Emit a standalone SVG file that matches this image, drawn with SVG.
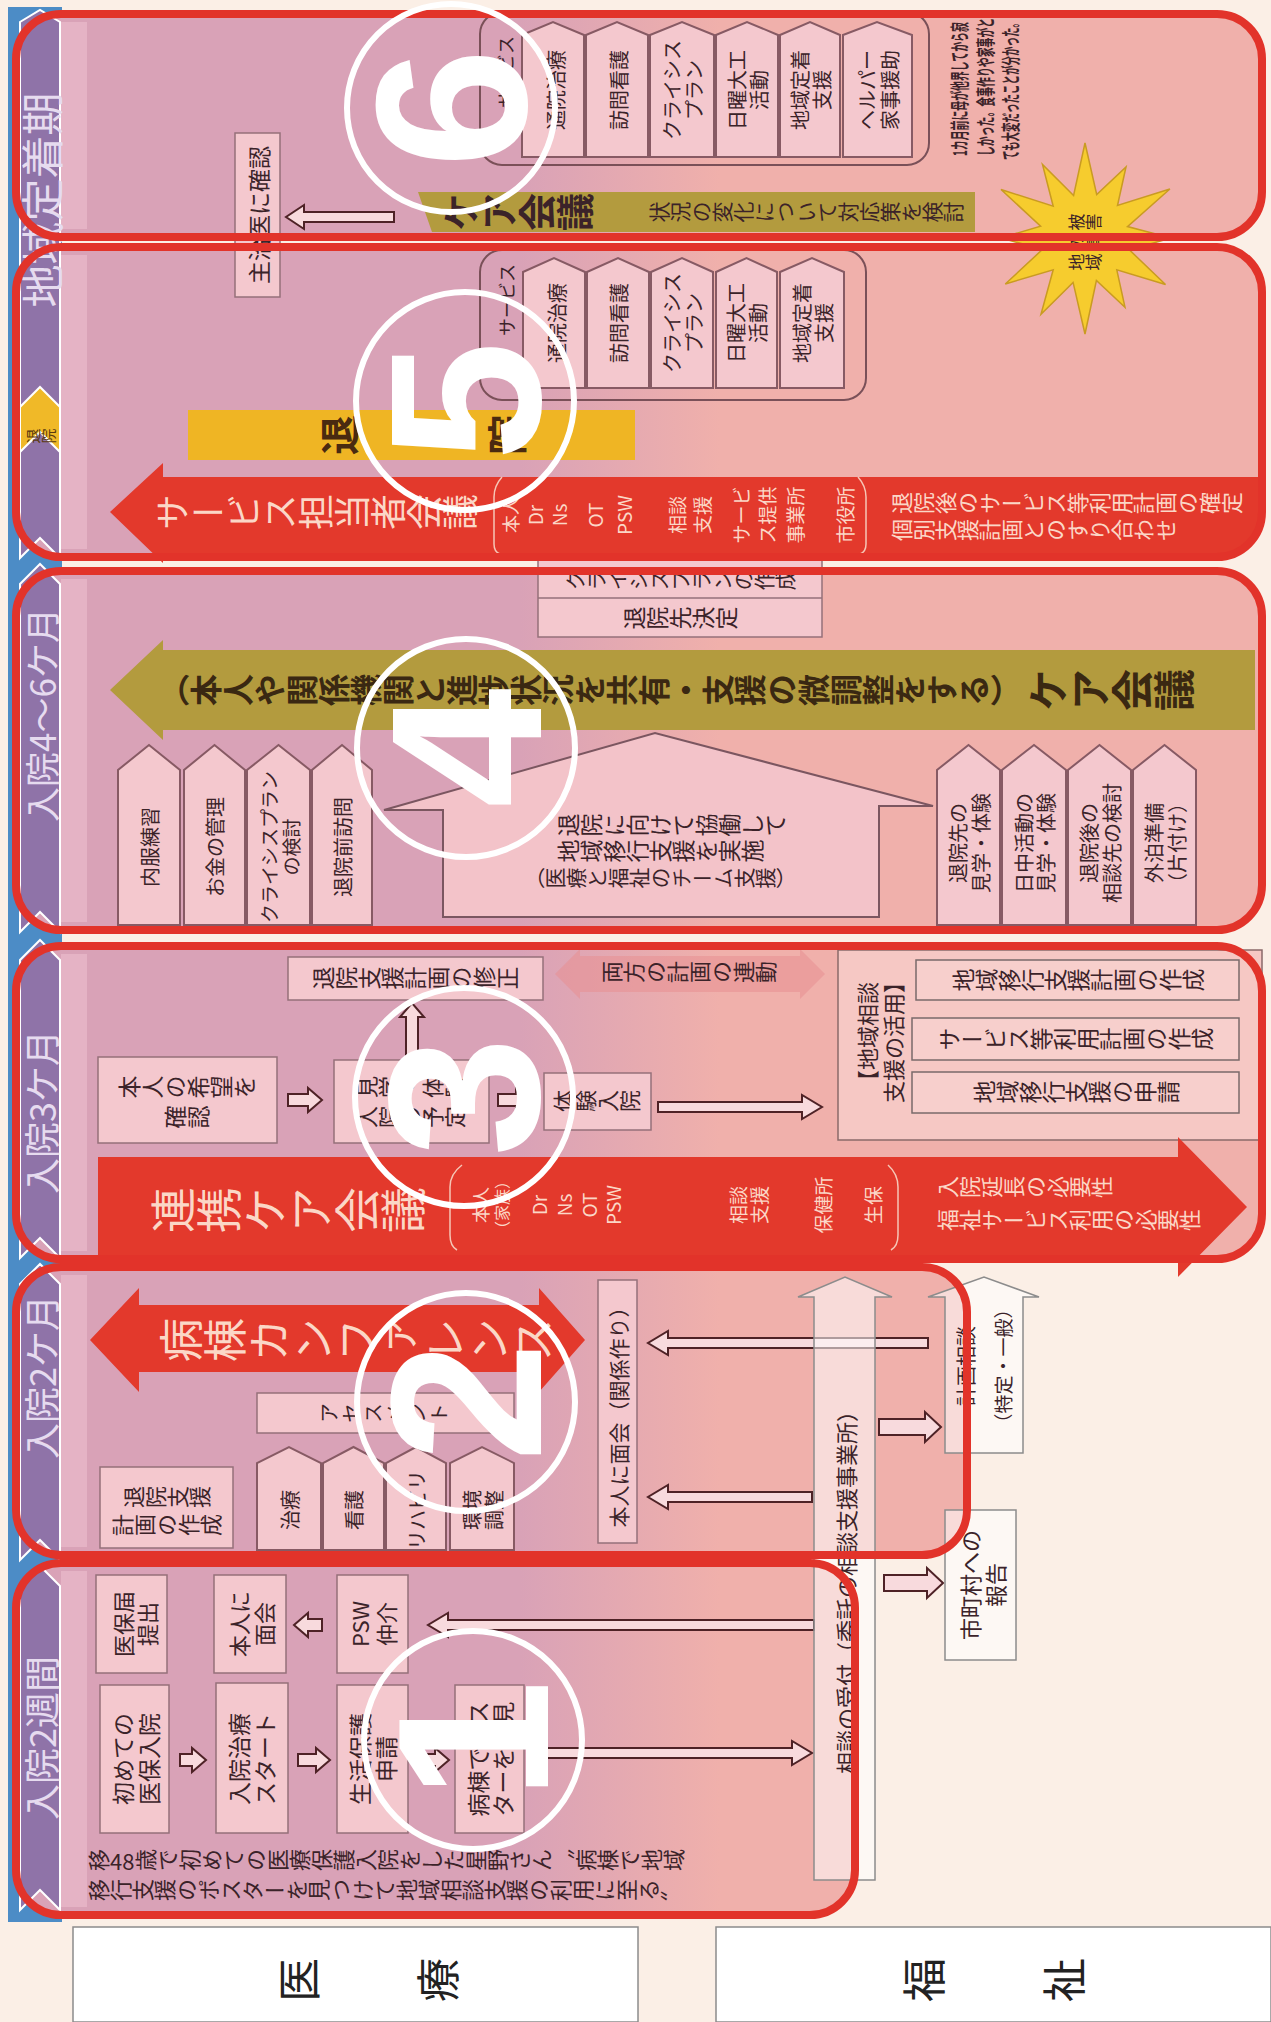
<svg xmlns="http://www.w3.org/2000/svg" width="1271" height="2022" viewBox="0 0 1271 2022">
<defs>
<linearGradient id="bg" gradientUnits="userSpaceOnUse" x1="0" y1="520" x2="0" y2="720">
<stop offset="0" stop-color="#d9a2b7"/><stop offset="1" stop-color="#f0b0ab"/>
</linearGradient>
<style>
text{font-family:"Noto Sans CJK JP","Noto Sans CJK SC",sans-serif;fill:#3b2329;}
.h{text-anchor:middle;dominant-baseline:central;}
.v{writing-mode:vertical-rl;text-anchor:middle;}
.vs{writing-mode:vertical-rl;text-anchor:start;}
.frame{fill:url(#bg);}
.fst{fill:none;stroke:#e2332a;stroke-width:8;}
.strip{fill:#e8b8ca;opacity:.75;}
.box{fill:#f4c8ce;stroke:#95707a;stroke-width:1.5;}
.tab{fill:#f4c8ce;stroke:#875a64;stroke-width:2;}
.wbox{fill:#ffffff;fill-opacity:.55;stroke:#8c8c8c;stroke-width:1.5;}
.arr{fill:#f8dadd;stroke:#4e2226;stroke-width:2;}
.red{fill:#e3392c;}
.olive{fill:#b39b3e;}
text.lt{fill:#fbd7c7;}
text.hd{fill:#e6dbef;}
.br{fill:none;stroke:#f6c6b6;stroke-width:1.5;}
.circ{fill:none;stroke:#ffffff;stroke-width:6;}
text.num{fill:#ffffff;font-family:"Liberation Sans",Arial,sans-serif;font-weight:700;font-size:215px;text-anchor:middle;dominant-baseline:central;}
</style>
</defs>
<rect x="0" y="0" width="1271" height="2022" fill="#fbefe6"/>
<g transform="translate(0,2022) rotate(-90)">
<rect x="100" y="8" width="1915" height="54" fill="#4c8cc6"/>
<g id="frames-fill">
<rect class="frame" x="107" y="16" width="352" height="839" rx="45"/>
<rect class="frame" x="467" y="16" width="288" height="951" rx="45"/>
<rect class="frame" x="763" y="16" width="313" height="1246" rx="45"/>
<rect class="frame" x="1092" y="16" width="359" height="1246" rx="45"/>
<rect class="frame" x="1465" y="16" width="310" height="1246" rx="45"/>
<rect class="frame" x="1785" y="16" width="223" height="1246" rx="45"/>
<rect class="strip" x="115" y="61" width="336" height="26"/>
<rect class="strip" x="475" y="61" width="272" height="26"/>
<rect class="strip" x="771" y="61" width="297" height="26"/>
<rect class="strip" x="1100" y="61" width="343" height="26"/>
<rect class="strip" x="1473" y="61" width="294" height="26"/>
<rect class="strip" x="1793" y="61" width="207" height="26"/>
</g>
<g id="header">
<polygon points="112,20 436,20 456,40 436,60 112,60 132,40" fill="#8f73a8" stroke="#ffffff" stroke-width="2"/>
<polygon points="462,20 738,20 758,40 738,60 462,60 482,40" fill="#8f73a8" stroke="#ffffff" stroke-width="2"/>
<polygon points="764,20 1062,20 1082,40 1062,60 764,60 784,40" fill="#8f73a8" stroke="#ffffff" stroke-width="2"/>
<polygon points="1090,20 1438,20 1458,40 1438,60 1090,60 1110,40" fill="#8f73a8" stroke="#ffffff" stroke-width="2"/>
<polygon points="1464,20 2000,20 2012,40 2000,60 1464,60 1484,40" fill="#8f73a8" stroke="#ffffff" stroke-width="2"/>
<polygon points="1570,20 1615,20 1635,40 1615,60 1570,60 1590,40" fill="#f0b928" stroke="#ffffff" stroke-width="2"/>
<text class="v" x="1586" y="41" font-size="15" style="fill:#5a3a10">退院</text>
<text class="h hd" x="284" y="40" font-size="36">入院2週間</text>
<text class="h hd" x="645" y="40" font-size="36">入院2ケ月</text>
<text class="h hd" x="910" y="40" font-size="36">入院3ケ月</text>
<text class="h hd" x="1307" y="40" font-size="35">入院4～6ケ月</text>
<text class="h hd" x="1822" y="40" font-size="43">地域定着期</text>
</g>
<g id="row-iryo">
<rect x="0" y="73" width="95" height="565" fill="#ffffff" stroke="#8c8c8c" stroke-width="1.5"/>
<text class="h" x="42" y="297" font-size="44" style="fill:#222">医</text>
<text class="h" x="42" y="436" font-size="44" style="fill:#222">療</text>
</g>
<g id="row-fukushi">
<rect x="0" y="716" width="95" height="555" fill="#ffffff" stroke="#8c8c8c" stroke-width="1.5"/>
<text class="h" x="42" y="922" font-size="44" style="fill:#222">福</text>
<text class="h" x="42" y="1062" font-size="44" style="fill:#222">祉</text>
</g>
<g id="connectors">
<polygon class="arr" points="1800,394 1800,304 1793,304 1805,286 1817,304 1810,304 1810,394"/>
<polygon class="arr" points="256,180 256,192 250,192 262,206 274,192 268,192 268,180"/>
<polygon class="arr" points="256,298 256,316 250,316 262,330 274,316 268,316 268,298"/>
<polygon class="arr" points="391,322 391,308 385,308 397,294 409,308 403,308 403,322"/>
<polygon class="arr" points="256,415 256,435 250,435 262,449 274,435 268,435 268,415"/>
<polygon class="arr" points="392,814 392,448 385,448 397,428 409,448 402,448 402,814"/>
<polygon class="arr" points="264,532 264,792 257,792 269,812 281,792 274,792 274,532"/>
<polygon class="arr" points="674,928 674,668 667,668 679,648 691,668 684,668 684,928"/>
<polygon class="arr" points="520,812 520,668 513,668 525,648 537,668 530,668 530,812"/>
<polygon class="arr" points="587,879 587,925 580,925 595,941 610,925 603,925 603,879"/>
<polygon class="arr" points="431,884 431,927 424,927 439,943 454,927 447,927 447,884"/>
<polygon class="arr" points="916,288 916,308 910,308 922,322 934,308 928,308 928,288"/>
<polygon class="arr" points="967,406 1005,406 1005,400 1019,412 1005,424 1005,418 967,418"/>
<polygon class="arr" points="916,498 916,516 910,516 922,530 934,516 928,516 928,498"/>
<polygon class="arr" points="910,658 910,802 903,802 915,822 927,802 920,802 920,658"/>
</g>
<g id="sec6">
<rect class="box" x="1725" y="235" width="164" height="45"/>
<text class="h" x="1807" y="258" font-size="23">主治医に確認</text>
<polygon class="olive" points="1790,432 1830,418 1830,975 1790,975"/>
<text class="v" x="1810" y="518" font-size="38" font-weight="700">ケア会議</text>
<text class="v" x="1810" y="806" font-size="21">状況の変化について対応策を検討</text>
<rect x="1857" y="480" width="153" height="449" rx="22" fill="none" stroke="#7a5058" stroke-width="2"/>
<text class="h" x="1950" y="505" font-size="18">サービス</text>
<polygon class="tab" points="1865,522 1987,522 2000,553 1987,584 1865,584"/>
<polygon class="tab" points="1865,586 1987,586 2000,617 1987,648 1865,648"/>
<polygon class="tab" points="1865,650 1987,650 2000,682 1987,714 1865,714"/>
<polygon class="tab" points="1865,716 1987,716 2000,747 1987,778 1865,778"/>
<polygon class="tab" points="1865,780 1987,780 2000,810 1987,840 1865,840"/>
<polygon class="tab" points="1865,843 1987,843 2000,877 1987,912 1865,912"/>
<text class="h" x="1932" y="555" font-size="20">通院治療</text>
<text class="h" x="1932" y="618" font-size="20">訪問看護</text>
<text class="h" x="1932" y="671" font-size="20">クライシス</text>
<text class="h" x="1932" y="693" font-size="20">プラン</text>
<text class="h" x="1932" y="736" font-size="20">日曜大工</text>
<text class="h" x="1932" y="758" font-size="20">活動</text>
<text class="h" x="1932" y="799" font-size="20">地域定着</text>
<text class="h" x="1932" y="821" font-size="20">支援</text>
<text class="h" x="1932" y="866" font-size="20">ヘルパー</text>
<text class="h" x="1932" y="889" font-size="20">家事援助</text>
<text transform="translate(1866,958) scale(0.52,1)" font-size="19" font-weight="700" dominant-baseline="central">1カ月前に母が他界してから寂</text>
<text transform="translate(1866,984) scale(0.52,1)" font-size="19" font-weight="700" dominant-baseline="central">しかった。食事作りや家事がと</text>
<text transform="translate(1862,1010) scale(0.5,1)" font-size="19" font-weight="700" dominant-baseline="central">ても大変だったことが分かった。</text>
</g>
<g id="starburst">
<polygon points="1879,1085 1827.5,1096.7 1855,1126 1816.5,1117.5 1833,1169.9 1795.4,1127.5 1784,1171 1772.1,1129.4 1737.5,1165.5 1752.2,1116.8 1714.7,1125 1741.5,1096.4 1688,1085 1739.6,1073.1 1707.8,1041 1752.2,1053.2 1738,1005.3 1772.6,1042.5 1784,1001 1795.9,1040.6 1832.5,1001 1815.8,1053.2 1857.6,1042.5 1826.5,1073.6" fill="#f6cc2e" stroke="#c99b22" stroke-width="1.5"/>
<text class="v" x="1800" y="1085" font-size="17">被害</text>
<text class="v" x="1780" y="1085" font-size="17">の情</text>
<text class="v" x="1760" y="1085" font-size="17">地域</text>
</g>
<g id="sec5">
<rect x="1562" y="188" width="50" height="447" fill="#efb524"/>
<text class="h" x="1587" y="338" font-size="40" font-weight="700" style="fill:#4a2a10">退</text>
<text class="h" x="1587" y="505" font-size="40" font-weight="700" style="fill:#4a2a10">院</text>
<path class="red" d="M1510,110 L1559,163 L1545,163 L1545,1262 L1510,1262 A45,45 0 0 1 1465,1217 L1465,163 L1459,163 Z"/>
<text class="v lt" x="1510" y="316" font-size="36">サービス担当者会議</text>
<path class="br" d="M1545,502 Q1536,494 1525,494 L1478,494 Q1470,494 1468,500"/>
<path class="br" d="M1545,858 Q1536,866 1525,866 L1478,866 Q1470,866 1468,860"/>
<text class="h lt" x="1507" y="510" font-size="18">本人</text>
<text class="h lt" x="1507" y="534" font-size="19">Dr</text>
<text class="h lt" x="1507" y="558" font-size="19">Ns</text>
<text class="h lt" x="1507" y="594" font-size="19">OT</text>
<text class="h lt" x="1507" y="623" font-size="19">PSW</text>
<text class="h lt" x="1507" y="676" font-size="19">相談</text>
<text class="h lt" x="1507" y="701" font-size="19">支援</text>
<text class="h lt" x="1507" y="740" font-size="19">サービ</text>
<text class="h lt" x="1507" y="766" font-size="19">ス提供</text>
<text class="h lt" x="1507" y="794" font-size="19">事業所</text>
<text class="h lt" x="1507" y="844" font-size="19">市役所</text>
<text class="vs lt" x="1519" y="891" font-size="22">退院後のサービス等利用計画の確定</text>
<text class="vs lt" x="1492" y="891" font-size="22">個別支援計画とのすり合わせ</text>
<rect x="1622" y="480" width="150" height="386" rx="22" fill="none" stroke="#7a5058" stroke-width="2"/>
<text class="h" x="1722" y="506" font-size="18">サービス</text>
<polygon class="tab" points="1634,523 1750,523 1764,554 1750,585 1634,585"/>
<polygon class="tab" points="1634,587 1750,587 1764,618 1750,649 1634,649"/>
<polygon class="tab" points="1634,651 1750,651 1764,682 1750,713 1634,713"/>
<polygon class="tab" points="1634,716 1750,716 1764,746.5 1750,777 1634,777"/>
<polygon class="tab" points="1634,780 1750,780 1764,812 1750,844 1634,844"/>
<text class="h" x="1699" y="556" font-size="20">通院治療</text>
<text class="h" x="1699" y="618" font-size="20">訪問看護</text>
<text class="h" x="1699" y="671" font-size="20">クライシス</text>
<text class="h" x="1699" y="693" font-size="20">プラン</text>
<text class="h" x="1699" y="735" font-size="20">日曜大工</text>
<text class="h" x="1699" y="757" font-size="20">活動</text>
<text class="h" x="1699" y="801" font-size="20">地域定着</text>
<text class="h" x="1699" y="823" font-size="20">支援</text>
</g>
<g id="sec4">
<rect class="box" x="1385" y="538" width="77" height="284"/>
<line x1="1424" y1="538" x2="1424" y2="822" stroke="#95707a" stroke-width="1.5"/>
<text class="v" x="1442" y="680" font-size="21">クライシスプランの作成</text>
<text class="v" x="1404" y="680" font-size="23">退院先決定</text>
<polygon class="olive" points="1332,110 1382,163 1372,163 1372,1255 1292,1255 1292,163 1282,163"/>
<text class="vs" x="1332" y="158" font-size="32" font-weight="700" style="fill:#3a2812">（本人や関係機関と進捗状況を共有・支援の微調整をする）</text>
<text class="vs" x="1332" y="1027" font-size="42" font-weight="700" style="fill:#3a2812">ケア会議</text>
<polygon class="tab" points="1097,118 1252,118 1277,149 1252,180 1097,180"/>
<polygon class="tab" points="1097,184 1252,184 1277,214.5 1252,245 1097,245"/>
<polygon class="tab" points="1097,247 1252,247 1277,278.5 1252,310 1097,310"/>
<polygon class="tab" points="1097,312 1252,312 1277,342 1252,372 1097,372"/>
<text class="h" x="1175" y="149" font-size="20">内服練習</text>
<text class="h" x="1175" y="214.5" font-size="20">お金の管理</text>
<text class="h" x="1175" y="268" font-size="19">クライシスプラン</text>
<text class="h" x="1175" y="290" font-size="19">の検討</text>
<text class="h" x="1175" y="342" font-size="20">退院前訪問</text>
<polygon points="1105,443 1212,443 1212,384 1289,655 1216,933 1216,879 1105,879" fill="#f3c3c9" stroke="#7b5660" stroke-width="2"/>
<text class="v" x="1197" y="672" font-size="23">退院に向けて協働して</text>
<text class="v" x="1171" y="660" font-size="23">地域移行支援を実施</text>
<text class="v" x="1144" y="660" font-size="21">（医療と福祉のチーム支援）</text>
<polygon class="tab" points="1097,937 1252,937 1277,968.5 1252,1000 1097,1000"/>
<polygon class="tab" points="1097,1002 1252,1002 1277,1034 1252,1066 1097,1066"/>
<polygon class="tab" points="1097,1068 1252,1068 1277,1099.5 1252,1131 1097,1131"/>
<polygon class="tab" points="1097,1133 1252,1133 1277,1164.5 1252,1196 1097,1196"/>
<text class="h" x="1179" y="957" font-size="20">退院先の</text>
<text class="h" x="1179" y="980" font-size="20">見学・体験</text>
<text class="h" x="1179" y="1023" font-size="20">日中活動の</text>
<text class="h" x="1179" y="1045" font-size="20">見学・体験</text>
<text class="h" x="1179" y="1088" font-size="20">退院後の</text>
<text class="h" x="1179" y="1111" font-size="20">相談先の検討</text>
<text class="h" x="1179" y="1153" font-size="20">外泊準備</text>
<text class="h" x="1179" y="1176" font-size="20">（片付け）</text>
</g>
<g id="sec3">
<rect class="box" x="1022" y="288" width="43" height="255"/>
<text class="v" x="1044" y="415" font-size="23">退院支援計画の修正</text>
<polygon points="1048,555 1073,580 1066,580 1066,800 1073,800 1048,825 1023,800 1030,800 1030,580 1023,580" fill="#e88f92" opacity="0.55"/>
<text class="v" x="1050" y="689" font-size="22">両方の計画の連動</text>
<rect class="box" x="879" y="98" width="86" height="179"/>
<text class="v" x="935" y="187" font-size="23">本人の希望を</text>
<text class="v" x="905" y="187" font-size="23">確認</text>
<rect class="box" x="879" y="334" width="83" height="155"/>
<text class="v" x="935" y="411" font-size="22">見学・体験</text>
<text class="v" x="905" y="411" font-size="22">入院の予定</text>
<rect class="box" x="892" y="544" width="57" height="107"/>
<text class="v" x="921" y="597" font-size="22">体験入院</text>
<rect x="882" y="838" width="190" height="424" fill="#f6c8c4" stroke="#8a6a6a" stroke-width="1.5"/>
<text class="h" x="985" y="866" font-size="22">【地域相談</text>
<text class="h" x="985" y="892" font-size="22">支援の活用】</text>
<rect x="1022" y="916" width="40" height="323" fill="#f7cfcc" stroke="#7a6a6a" stroke-width="1.5"/>
<text class="v" x="1042" y="1078" font-size="23">地域移行支援計画の作成</text>
<rect x="962" y="912" width="42" height="327" fill="#f7cfcc" stroke="#7a6a6a" stroke-width="1.5"/>
<text class="v" x="983" y="1076" font-size="23">サービス等利用計画の作成</text>
<rect x="909" y="912" width="41" height="327" fill="#f7cfcc" stroke="#7a6a6a" stroke-width="1.5"/>
<text class="v" x="930" y="1076" font-size="23">地域移行支援の申請</text>
<polygon class="red" points="764,98 865,98 865,1178 885,1178 815,1247 745,1178 764,1178"/>
<text class="v lt" x="812" y="288" font-size="46">連携ケア会議</text>
<path class="br" d="M857,462 Q848,450 835,450 L787,450 Q776,450 772,457"/>
<path class="br" d="M857,888 Q848,898 835,898 L787,898 Q776,898 772,891"/>
<text class="h lt" x="817" y="480" font-size="18">本人</text>
<text class="h lt" x="817" y="501" font-size="16">（家族）</text>
<text class="h lt" x="817" y="538" font-size="19">Dr</text>
<text class="h lt" x="817" y="563" font-size="19">Ns</text>
<text class="h lt" x="817" y="588" font-size="19">OT</text>
<text class="h lt" x="817" y="612" font-size="19">PSW</text>
<text class="h lt" x="817" y="737" font-size="19">相談</text>
<text class="h lt" x="817" y="758" font-size="19">支援</text>
<text class="h lt" x="817" y="822" font-size="19">保健所</text>
<text class="h lt" x="817" y="872" font-size="19">生保</text>
<text class="vs lt" x="835" y="937" font-size="22">入院延長の必要性</text>
<text class="vs lt" x="802" y="937" font-size="22">福祉サービス利用の必要性</text>
</g>
<g id="sec2">
<polygon class="red" points="682,90 734,139 717,139 717,539 734,539 682,585 630,539 650,539 650,139 630,139"/>
<text class="v lt" x="682" y="357" font-size="44">病棟カンファレンス</text>
<rect class="box" x="589" y="257" width="40" height="257"/>
<text class="v" x="609" y="385" font-size="20" letter-spacing="2">アセスメント</text>
<rect class="box" x="474" y="100" width="81" height="133"/>
<text class="v" x="525" y="167" font-size="22">退院支援</text>
<text class="v" x="497" y="167" font-size="22">計画の作成</text>
<polygon class="tab" points="472,257 559,257 575,289 559,321 472,321"/>
<polygon class="tab" points="472,323 559,323 575,353.5 559,384 472,384"/>
<polygon class="tab" points="472,386 559,386 575,416 559,446 472,446"/>
<polygon class="tab" points="472,450 559,450 575,482 559,514 472,514"/>
<text class="h" x="512" y="289" font-size="20">治療</text>
<text class="h" x="512" y="353.5" font-size="20">看護</text>
<text class="h" x="512" y="416" font-size="20">リハビリ</text>
<text class="h" x="512" y="471" font-size="20">環境</text>
<text class="h" x="512" y="493" font-size="20">調整</text>
<rect class="box" x="479" y="598" width="263" height="39"/>
<text class="h" x="610" y="618" font-size="21">本人に面会（関係作り）</text>
<polygon class="wbox" points="569,945 725,945 725,928 745,984 725,1039 725,1023 569,1023"/>
<text class="h" x="656" y="965" font-size="20">計画相談</text>
<text class="h" x="656" y="1002" font-size="19">（特定・一般）</text>
</g>
<g id="soudan-uketsuke">
<polygon class="wbox" points="142,814 725,814 725,798 745,845 725,892 725,875 142,875"/>
<text class="h" x="435" y="845" font-size="22">相談の受付（委託の相談支援事業所）</text>
</g>
<g id="shichoson">
<rect class="wbox" x="362" y="945" width="150" height="71"/>
<text class="h" x="437" y="969" font-size="22">市町村への</text>
<text class="h" x="437" y="994" font-size="22">報告</text>
</g>
<g id="sec1">
<rect class="box" x="349" y="96" width="98" height="71"/>
<text class="h" x="398" y="122" font-size="22">医保届</text>
<text class="h" x="398" y="146" font-size="22">提出</text>
<rect class="box" x="189" y="100" width="148" height="69"/>
<text class="h" x="263" y="122" font-size="23">初めての</text>
<text class="h" x="263" y="148" font-size="23">医保入院</text>
<rect class="box" x="189" y="216" width="150" height="72"/>
<text class="h" x="263" y="238" font-size="23">入院治療</text>
<text class="h" x="263" y="264" font-size="23">スタート</text>
<rect class="box" x="349" y="214" width="98" height="72"/>
<text class="h" x="398" y="238" font-size="22">本人に</text>
<text class="h" x="398" y="263" font-size="22">面会</text>
<rect class="box" x="189" y="337" width="148" height="71"/>
<text class="h" x="263" y="359" font-size="23">生活保護</text>
<text class="h" x="263" y="385" font-size="23">申請</text>
<rect class="box" x="349" y="337" width="98" height="71"/>
<text class="h" x="398" y="359" font-size="22">PSW</text>
<text class="h" x="398" y="385" font-size="22">仲介</text>
<rect class="box" x="189" y="455" width="148" height="69"/>
<text class="h" x="263" y="477" font-size="23">病棟でポス</text>
<text class="h" x="263" y="502" font-size="23">ターを発見</text>
<text class="vs" x="162" y="88" font-size="22">移48歳で初めての医療保護入院をした星野さん〝病棟で地域</text>
<text class="vs" x="132" y="88" font-size="22">移行支援のポスターを見つけて地域相談支援の利用に至る〟</text>
</g>
<g id="frames-stroke">
<rect class="fst" x="107" y="16" width="352" height="839" rx="45"/>
<rect class="fst" x="467" y="16" width="288" height="951" rx="45"/>
<rect class="fst" x="763" y="16" width="313" height="1246" rx="45"/>
<rect class="fst" x="1092" y="16" width="359" height="1246" rx="45"/>
<rect class="fst" x="1465" y="16" width="310" height="1246" rx="45"/>
<rect class="fst" x="1785" y="16" width="223" height="1246" rx="45"/>
</g>
<g id="markers">
<circle class="circ" cx="282" cy="473" r="109"/><text class="num" x="282" y="473">1</text>
<circle class="circ" cx="620" cy="466" r="109"/><text class="num" x="620" y="466">2</text>
<circle class="circ" cx="925" cy="464" r="109"/><text class="num" x="925" y="464">3</text>
<circle class="circ" cx="1274" cy="466" r="109"/><text class="num" x="1274" y="466">4</text>
<circle class="circ" cx="1621" cy="465" r="109"/><text class="num" x="1621" y="465">5</text>
<circle class="circ" cx="1914" cy="451" r="104"/><text class="num" x="1914" y="451">6</text>
</g>
</g>
</svg>
